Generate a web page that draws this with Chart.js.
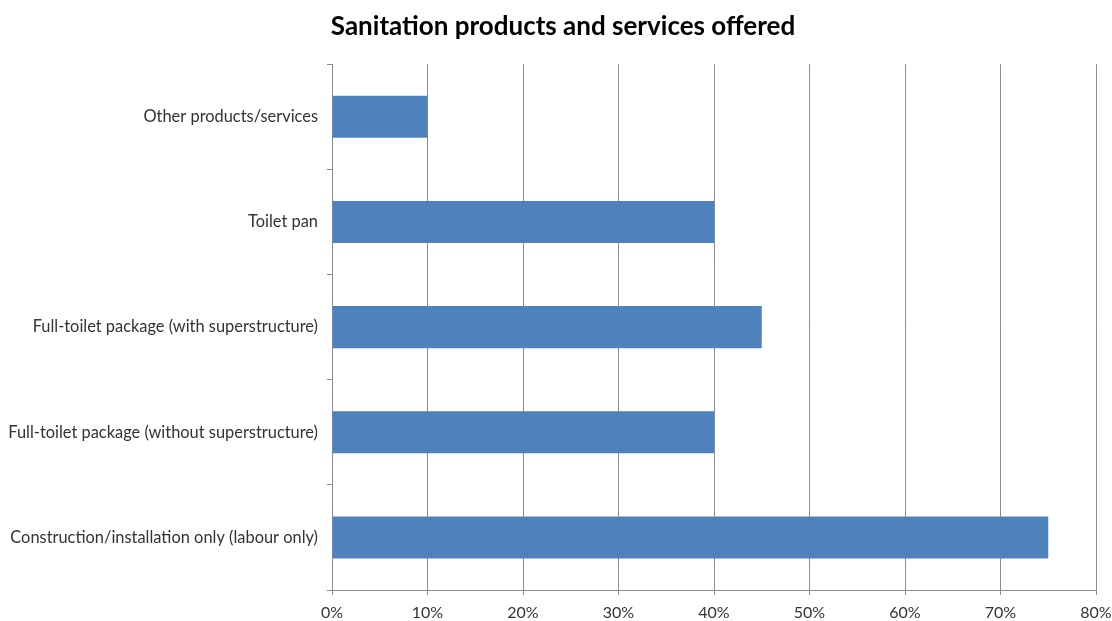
<!DOCTYPE html>
<html>
<head>
<meta charset="utf-8">
<script src="https://cdn.jsdelivr.net/npm/chart.js@4/dist/chart.umd.min.js"></script>
<style>
    html, body { margin: 0; padding: 0; background: #fff; }
    #wrap { width: 1112px; height: 621px; }
</style>
</head>
<body>
<div id="wrap"><canvas id="services-offered"></canvas></div>
<script>
const categories = [
    "Other products/services",
    "Toilet pan",
    "Full-toilet package (with superstructure)",
    "Full-toilet package (without superstructure)",
    "Construction/installation only (labour only)"
];
const shareOffered = [10, 40, 45, 40, 75];
const xTicks = [0, 10, 20, 30, 40, 50, 60, 70, 80];

const gridGray = "#8c8c8c";
const fontFamily = "Lato, 'Open Sans', sans-serif";

// nudge the title a bit to the right so it sits over the plot
const titleShift = {
    id: "titleShift",
    afterLayout(chart) {
        if (chart.titleBlock) {
            chart.titleBlock.left = 30;
        }
    }
};

const ctx = document.getElementById("services-offered").getContext("2d");

new Chart(ctx, {
    type: "bar",
    data: {
        labels: categories,
        datasets: [{
            label: "Share",
            data: shareOffered,
            backgroundColor: "#4f81bd",
            borderWidth: 0,
            barPercentage: 0.4,
            categoryPercentage: 1
        }]
    },
    options: {
        indexAxis: "y",
        responsive: true,
        maintainAspectRatio: false,
        animation: false,
        layout: { padding: { left: 0, right: 16, top: 0, bottom: 0 } },
        plugins: {
            legend: { display: false },
            tooltip: { enabled: false },
            title: {
                display: true,
                text: "Sanitation products and services offered",
                color: "#000",
                font: { family: fontFamily, size: 26, weight: "bold" },
                padding: { top: 11, bottom: 22 }
            }
        },
        scales: {
            x: {
                min: 0,
                max: 80,
                afterBuildTicks: (scale) => {
                    scale.ticks = xTicks.map(v => ({ value: v }));
                },
                afterFit: (scale) => {
                    scale.paddingRight = 0;
                    scale.paddingLeft = 0;
                    scale.height = 31;
                },
                ticks: {
                    color: "#333",
                    font: { family: fontFamily, size: 16 },
                    padding: 8,
                    maxRotation: 0,
                    callback: (v) => v + "%"
                },
                grid: {
                    color: gridGray,
                    lineWidth: 1,
                    tickLength: 5,
                    drawTicks: true
                },
                border: { color: gridGray }
            },
            y: {
                afterFit: (scale) => {
                    scale.width = 332;
                },
                ticks: {
                    color: "#333",
                    font: { family: fontFamily, size: 16.4 },
                    padding: 9
                },
                grid: {
                    display: true,
                    drawOnChartArea: false,
                    drawTicks: true,
                    tickLength: 5,
                    color: gridGray,
                    offset: true
                },
                border: { color: gridGray }
            }
        }
    },
    plugins: [titleShift]
});
</script>
</body>
</html>
